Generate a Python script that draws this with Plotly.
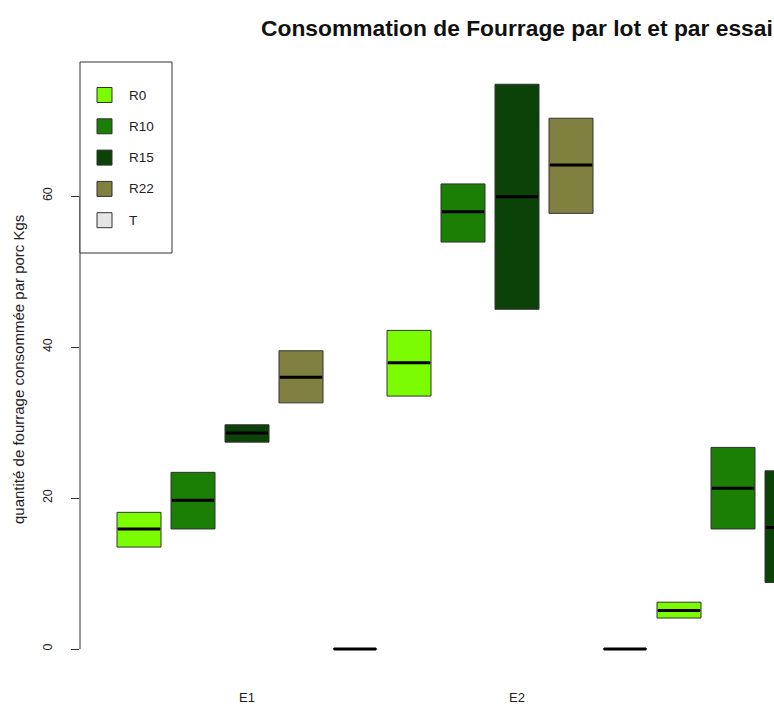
import plotly.graph_objects as go

# ---- data ----
essais = ["E1", "E2", "E3"]
lots = ["R0", "R10", "R15", "R22", "T"]
colors = ["#7CFC00", "#1B7F06", "#0B4207", "#808040", "#E5E5E5"]

# per lot, per essai: q1, median, q3 (None = outside visible area)
q1 = {
    "R0":  [13.5, 33.5, 4.1],
    "R10": [15.9, 53.9, 15.9],
    "R15": [27.4, 45.0, 8.8],
    "R22": [32.6, 57.7, None],
    "T":   [0.0, 0.0, None],
}
med = {
    "R0":  [15.9, 37.9, 5.1],
    "R10": [19.7, 57.9, 21.3],
    "R15": [28.6, 59.9, 16.1],
    "R22": [36.0, 64.1, None],
    "T":   [0.0, 0.0, None],
}
q3 = {
    "R0":  [18.1, 42.2, 6.2],
    "R10": [23.4, 61.6, 26.7],
    "R15": [29.7, 74.8, 23.6],
    "R22": [39.5, 70.3, None],
    "T":   [0.0, 0.0, None],
}
yticks = [0, 20, 40, 60]
title = "Consommation de Fourrage par lot et par essai"
ytitle = "quantité de fourrage consommée par porc Kgs"

W, H = 774, 707
ML, MT, MR = 80, 62, 0
MB = H - 672
PW, PH = W - ML - MR, H - MT - MB

def px(x):  # screen px -> paper
    return (x - ML) / PW

def py(y):
    return (MT + PH - y) / PH

fig = go.Figure()
nl = len(lots)
for k, lot in enumerate(lots):
    xs, a, m, b = [], [], [], []
    for g, e in enumerate(essais):
        if med[lot][g] is None:
            continue
        xs.append(g * nl + k)
        a.append(q1[lot][g]); m.append(med[lot][g]); b.append(q3[lot][g])
    fig.add_trace(go.Box(
        x=xs, q1=a, median=m, q3=b, lowerfence=a, upperfence=b,
        fillcolor=colors[k], line=dict(color="#333333", width=1),
        width=0.815, whiskerwidth=0, name=lot, showlegend=False,
        hoverinfo="skip", boxpoints=False,
    ))
    fig.add_trace(go.Box(
        x=xs, q1=m, median=m, q3=m, lowerfence=m, upperfence=m,
        fillcolor="rgba(0,0,0,0)", line=dict(color="#000000", width=3),
        width=0.78, whiskerwidth=0, name=lot + " med", showlegend=False,
        hoverinfo="skip", boxpoints=False,
    ))

# y axis line from first to last tick
fig.add_shape(type="line", xref="paper", yref="y", x0=0, x1=0,
              y0=yticks[0], y1=yticks[-1], line=dict(color="#333333", width=1))

# legend box
fig.add_shape(type="rect", xref="paper", yref="paper",
              x0=px(80), x1=px(172), y0=py(253), y1=py(62),
              line=dict(color="#333333", width=1), fillcolor="white")
for k, lot in enumerate(lots):
    yc = 95 + k * 31.3
    fig.add_shape(type="rect", xref="paper", yref="paper",
                  x0=px(97), x1=px(112), y0=py(yc + 7.5), y1=py(yc - 7.5),
                  line=dict(color="#333333", width=1), fillcolor=colors[k])
    fig.add_annotation(xref="paper", yref="paper", x=px(127), y=py(yc),
                       text=lot, showarrow=False, xanchor="left", yanchor="middle",
                       font=dict(family="Liberation Sans", size=13.5, color="#222222"))

fig.add_annotation(xref="paper", yref="paper", x=px(260), y=py(28),
                   text="<b>" + title + "</b>", showarrow=False,
                   xanchor="left", yanchor="middle", borderpad=0,
                   font=dict(family="Liberation Sans", size=22.8, color="#111111"))
fig.add_annotation(xref="paper", yref="paper", x=px(19), y=py(370),
                   text=ytitle, showarrow=False, textangle=-90,
                   xanchor="center", yanchor="middle",
                   font=dict(family="Liberation Sans", size=15, color="#222222"))

fig.update_layout(
    width=W, height=H,
    margin=dict(l=ML, r=MR, t=MT, b=MB, autoexpand=False),
    paper_bgcolor="white", plot_bgcolor="white",
    showlegend=False,
    xaxis=dict(range=[(80 - 139) / 54, (774 - 139) / 54],
               tickvals=[g * nl + 2 for g in range(len(essais))], ticktext=essais,
               showgrid=False, zeroline=False, showline=False,
               ticks="", ticklabelstandoff=16,
               tickfont=dict(family="Liberation Sans", size=13, color="#222222")),
    yaxis=dict(range=[(649 - 672) / 7.55, (649 - 62) / 7.55],
               tickvals=yticks, tickangle=-90,
               showgrid=False, zeroline=False, showline=False,
               ticks="outside", ticklen=8, tickcolor="#333333", tickwidth=1,
               ticklabelstandoff=14,
               tickfont=dict(family="Liberation Sans", size=12.5, color="#222222")),
)
fig.write_html(
    "out.html",
    config={"displayModeBar": False},
    post_script="document.body.style.margin='0';document.body.style.overflow='hidden';",
)
